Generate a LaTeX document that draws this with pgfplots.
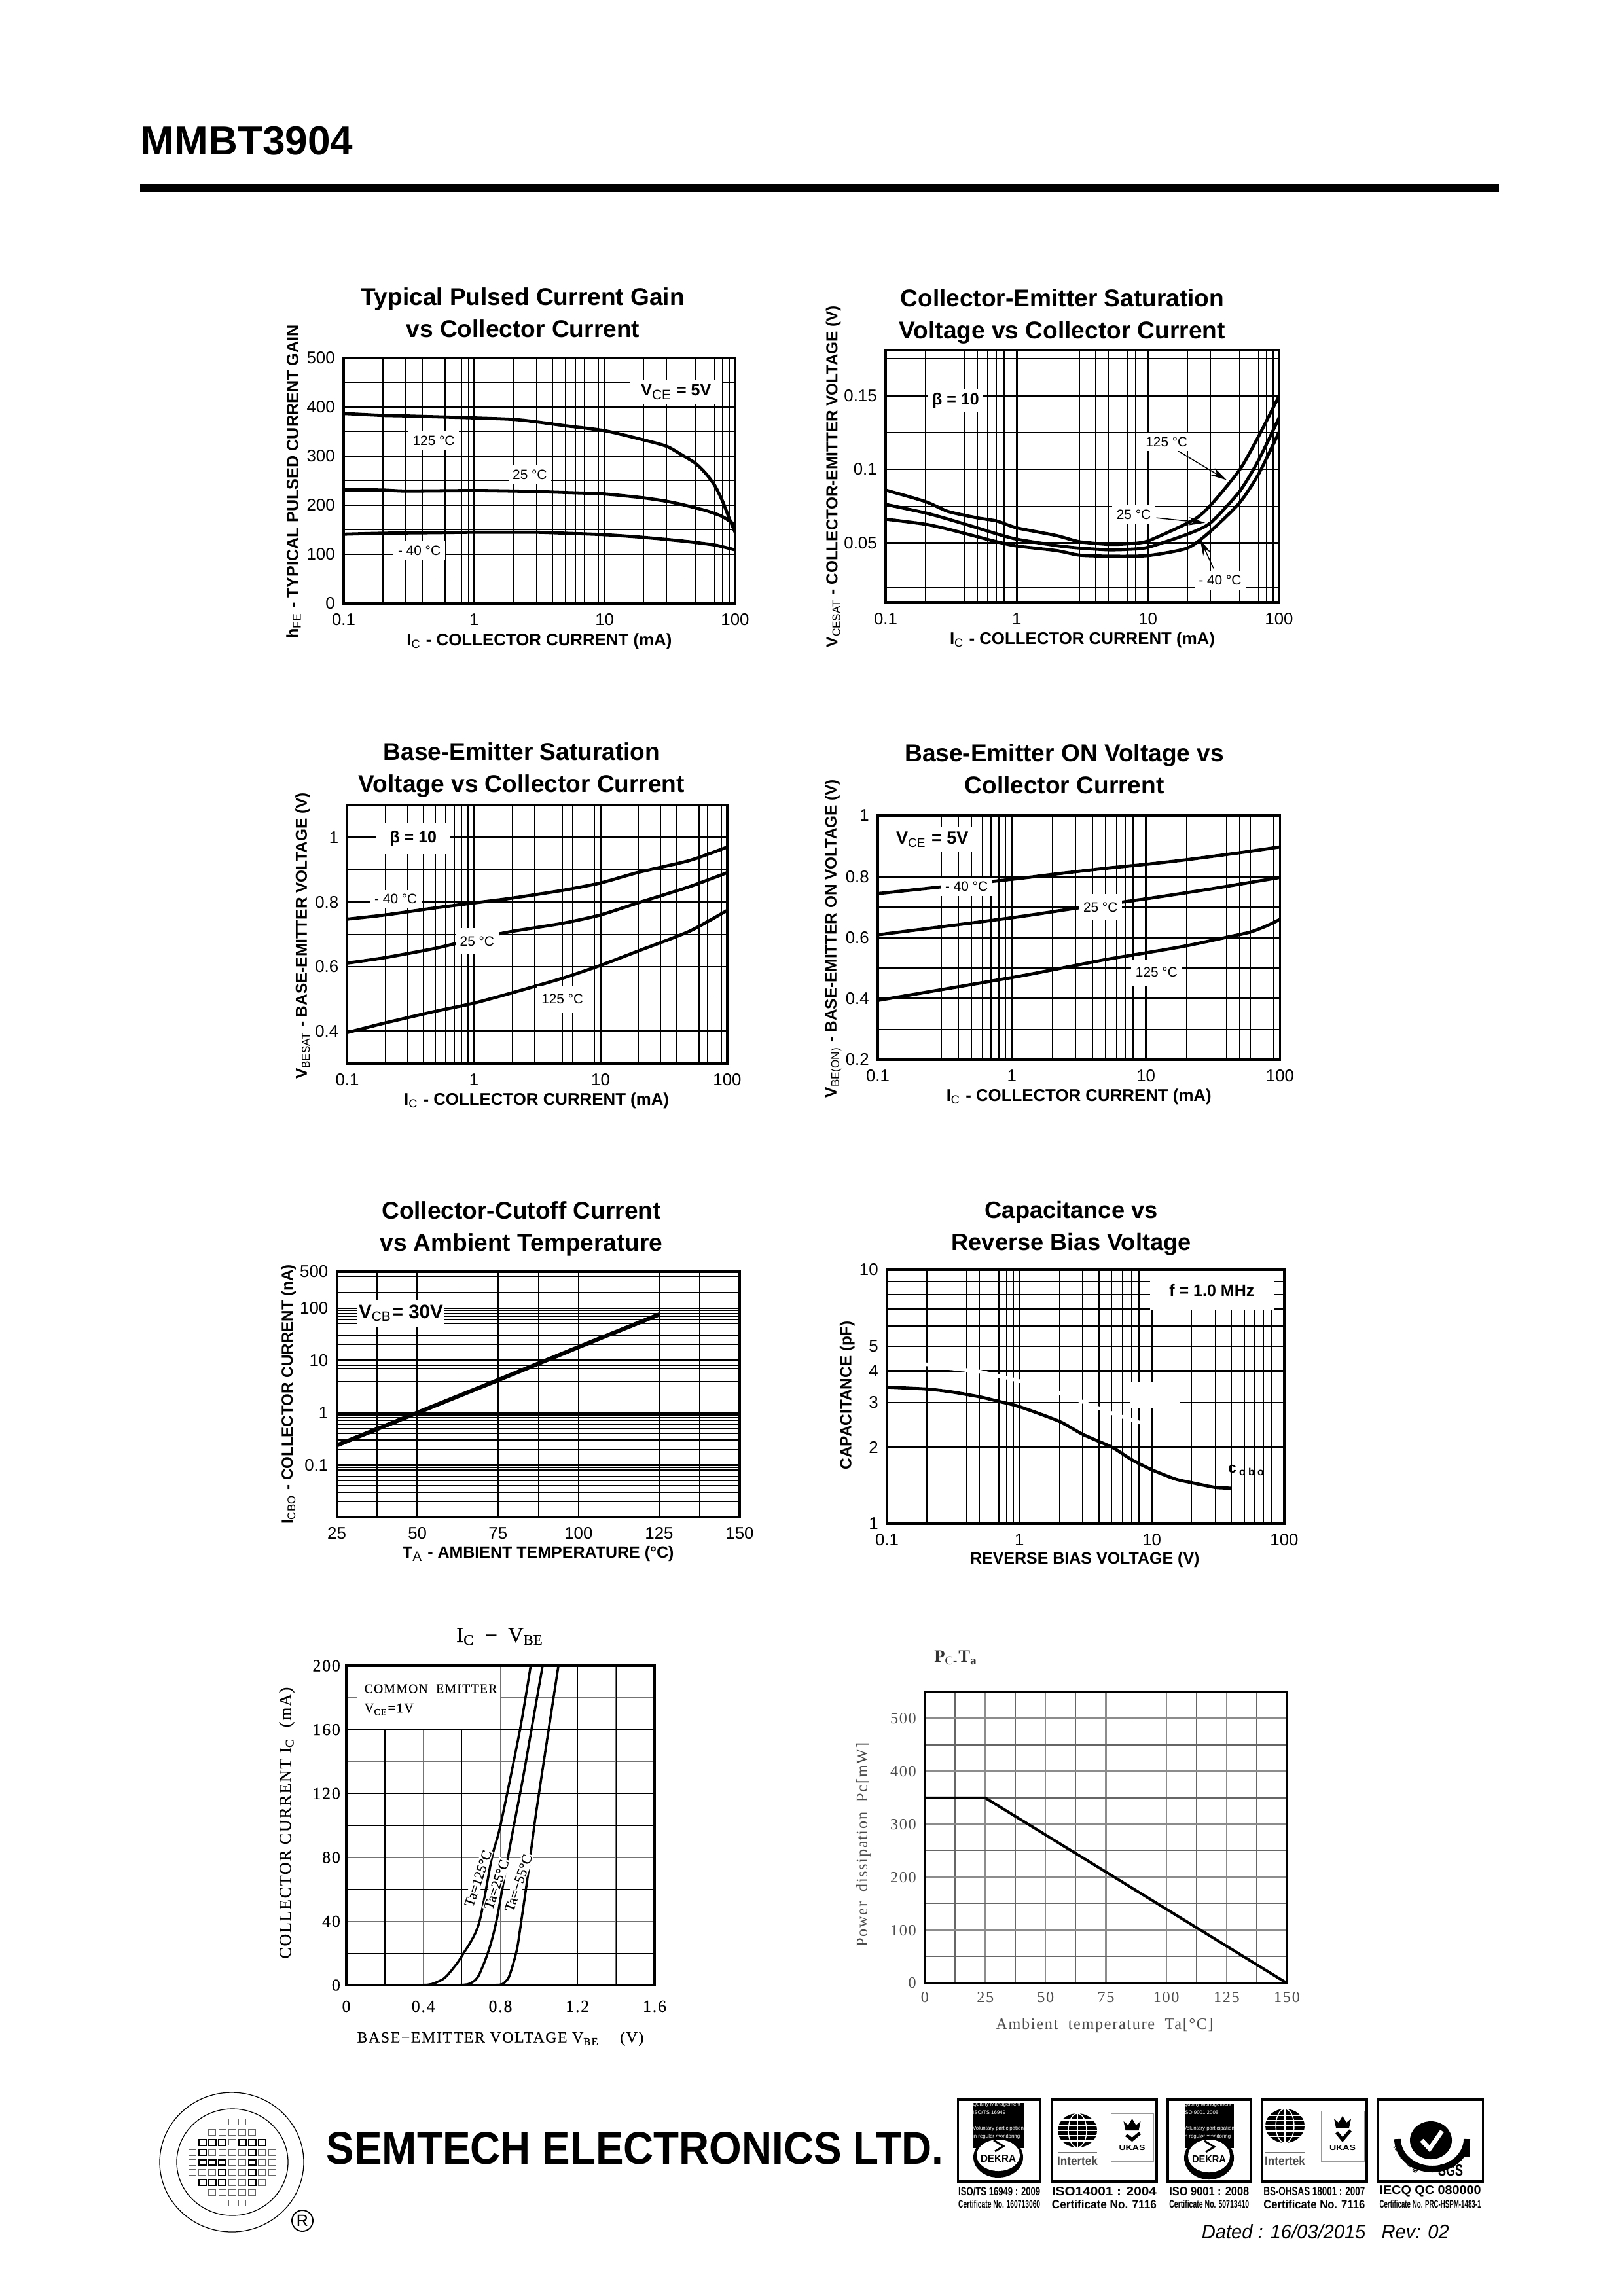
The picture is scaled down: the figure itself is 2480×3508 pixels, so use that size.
\documentclass[border=0pt]{standalone}
\usepackage{fontspec}
\usepackage{graphicx}
\usepackage{pgfplots}
\pgfplotsset{compat=1.18}
\usetikzlibrary{arrows.meta}
\setmainfont{Liberation Sans}
\newfontfamily\srw[LetterSpace=7]{Liberation Serif}
\newfontfamily\srb[LetterSpace=7,FakeBold=0.35]{Liberation Serif}
\newfontfamily\srn{Liberation Serif}
\newfontfamily\srm[FakeBold=0.35]{Liberation Serif}
\newdimen\pxu \pxu=0.24pt
\newcommand\fs[2]{\fontsize{#1}{#2}\selectfont}
\newcommand\sub[1]{\textsubscript{\mdseries #1}}
\newcommand\fit[3]{\resizebox{#1\pxu}{#2\pxu}{#3}}
\pgfplotsset{
 mybox/.style n args={4}{at={({#1*0.24pt},{-#4*0.24pt})},anchor=south west,scale only axis,width={(#3-#1)*0.24pt},height={(#4-#2)*0.24pt},/pgfplots/.cd},
 mypos/.style n args={6}{
  title style={at={(axis description cs:#1,#2)},anchor=center,align=center,yshift=0pt},
  xlabel style={at={(axis description cs:#3,#4)},anchor=center},
  ylabel style={at={(axis description cs:#5,#6)},anchor=center},/pgfplots/.cd},
 mybase/.style={
  axis line style={line width=.8pt,black},
  tick style={draw=none},major tick length=0pt,minor tick length=0pt,
  xmajorgrids,ymajorgrids,xminorgrids,yminorgrids,
  major grid style={black,line width=.62pt},
  minor grid style={black,line width=.32pt},
  tick label style={font=\fs{6.2}{7}},
  xticklabel style={inner sep=0pt},yticklabel style={inner sep=0pt},
  xticklabel shift=3.6pt,yticklabel shift=3pt,
  title style={font=\bfseries\fs{8.9}{11.8}},
  xlabel style={font=\bfseries\fs{6.2}{7}},
  ylabel style={font=\bfseries\fs{5.85}{7}},
  /pgfplots/.cd,
 },
 mylogx/.style={/pgfplots/xmin=.1,/pgfplots/xmax=100,/pgfplots/xtick={.1,1,10,100},/pgfplots/xticklabels={0.1,1,10,100},/pgfplots/minor xtick={.2,.3,.4,.5,.6,.7,.8,.9,2,3,4,5,6,7,8,9,20,30,40,50,60,70,80,90}},
 mycurve/.style={black,line width=1.15pt,no markers,line join=round,smooth,tension=.4},
}
\tikzset{
 mylab/.style={fill=white,inner sep=1.6pt,font=\fs{5}{6}},
 myblab/.style={fill=white,inner sep=1.6pt,font=\bfseries\fs{6}{7}},
}
\begin{document}
\begin{tikzpicture}[x=0.24pt,y=-0.24pt]
\useasboundingbox (0,0) rectangle (2480,3508);
% header
\node[anchor=base west,inner sep=0pt,font=\bfseries\fs{14.9}{16}] at (214,237) {MMBT3904};
\fill[black] (214,281) rectangle (2290,293);

% chart 1
\begin{semilogxaxis}[mybox={525}{547}{1123}{922},mybase,mylogx,mypos={.458}{1.118}{.5}{-.153}{-.128}{.496},
 ymin=0,ymax=500,ytick={0,100,200,300,400,500},yticklabels={0,100,200,300,400,500},
 minor ytick={50,150,250,350,450},
 ylabel style={font=\bfseries\fs{6.05}{7}},
 title={Typical Pulsed Current Gain\\vs Collector Current},
 xlabel={I\sub{C} - COLLECTOR CURRENT (mA)},
 ylabel={h\sub{FE} - TYPICAL PULSED CURRENT GAIN}]
\addplot[mycurve] coordinates {(.1,387)(.2,383)(.3,382)(1,378)(2,375)(3,370)(5,362)(10,352)(20,333)(30,320)(40,301)(50,285)(60,264)(70,240)(80,209)(90,174)(100,145)};
\addplot[mycurve] coordinates {(.1,231.5)(.2,231)(.3,229)(1,230)(2,229)(3,228)(5,226)(10,223)(20,215)(30,208)(40,201)(60,189)(80,177)(100,160)};
\addplot[mycurve] coordinates {(.1,141)(.2,143)(.5,144)(1,145)(2,145)(3,145)(5,143)(10,140)(20,134.5)(40,127)(70,119)(100,109)};
\node[mylab] at (axis cs:.49,332) {125 °C};
\node[mylab] at (axis cs:2.67,262) {25 °C};
\node[mylab] at (axis cs:.38,108) {- 40 °C};
\node[myblab,inner xsep=4pt] at (axis cs:35.3,431) {V\sub{CE} = 5V};
\end{semilogxaxis}

% chart 2
\begin{semilogxaxis}[mybox={1353}{535}{1954}{921},mybase,mylogx,mypos={.449}{1.069}{.5}{-.147}{-.133}{.5},
 scaled y ticks=false,
 ymin=.0095,ymax=.1808,ytick={.05,.1,.15},yticklabels={0.05,0.1,0.15},
 minor ytick={.02,.075,.125,.175},
 title={Collector-Emitter Saturation\\Voltage vs Collector Current},
 xlabel={I\sub{C} - COLLECTOR CURRENT (mA)},
 ylabel={V\sub{CESAT} - COLLECTOR-EMITTER VOLTAGE (V)}]
\addplot[mycurve] coordinates {(.1,.0859)(.2,.0782)(.3,.0714)(.5,.0671)(.7,.065)(1,.0603)(2,.0551)(3,.0509)(5,.0491)(7,.0495)(10,.0514)(22,.0654)(30,.0756)(50,.0996)(70,.1226)(100,.1497)};
\addplot[mycurve] coordinates {(.1,.0762)(.2,.0705)(.3,.0662)(.5,.0603)(.7,.0563)(1,.0526)(2,.0483)(3,.0466)(5,.0454)(7,.0457)(10,.0471)(20,.056)(30,.0637)(50,.085)(70,.1064)(100,.135)};
\addplot[mycurve] coordinates {(.1,.0662)(.2,.0628)(.3,.0594)(.5,.0543)(.7,.0509)(1,.048)(2,.0449)(3,.0418)(5,.0411)(10,.0415)(20,.0466)(30,.058)(50,.0773)(70,.097)(100,.1252)};
\draw[-{Stealth[length=6pt,width=3pt]},line width=.35pt] (axis cs:17,.1124) -- (axis cs:39.9,.0927);
\draw[-{Stealth[length=6pt,width=3pt]},line width=.35pt] (axis cs:11.6,.0671) -- (axis cs:27.3,.0637);
\draw[-{Stealth[length=6pt,width=3pt]},line width=.35pt] (axis cs:31.6,.0329) -- (axis cs:25,.0526);
\node[myblab] at (axis cs:.342,.1466) {β = 10};
\node[mylab] at (axis cs:13.9,.1187) {125 °C};
\node[mylab] at (axis cs:7.8,.0693) {25 °C};
\node[mylab] at (axis cs:35.5,.0247) {- 40 °C};
\end{semilogxaxis}

% chart 3
\begin{semilogxaxis}[mybox={530.5}{1230}{1111}{1625},mybase,mylogx,mypos={.459}{1.072}{.498}{-.144}{-.117}{.494},
 ymin=.3,ymax=1.1,ytick={.4,.6,.8,1},yticklabels={0.4,0.6,0.8,1},
 minor ytick={.5,.7,.9},
 title={Base-Emitter Saturation\\Voltage vs Collector Current},
 xlabel={I\sub{C} - COLLECTOR CURRENT (mA)},
 ylabel={V\sub{BESAT} - BASE-EMITTER VOLTAGE (V)}]
\addplot[mycurve] coordinates {(.1,.747)(.2,.76)(.5,.782)(1,.797)(2,.812)(5,.836)(10,.859)(20,.892)(50,.928)(100,.97)};
\addplot[mycurve] coordinates {(.1,.611)(.2,.628)(.5,.657)(1,.685)(2,.709)(5,.734)(10,.76)(20,.798)(50,.847)(100,.891)};
\addplot[mycurve] coordinates {(.1,.396)(.2,.426)(.5,.462)(1,.487)(2,.519)(5,.564)(10,.604)(20,.649)(50,.709)(100,.774)};
\node[myblab,inner xsep=5pt,inner ysep=3pt] at (axis cs:.332,.997) {β = 10};
\node[mylab] at (axis cs:.242,.809) {- 40 °C};
\node[mylab,inner ysep=3pt] at (axis cs:1.06,.679) {25 °C};
\node[mylab,inner ysep=3pt] at (axis cs:5,.499) {125 °C};
\end{semilogxaxis}

% chart 4
\begin{semilogxaxis}[mybox={1341}{1246}{1955.5}{1619},mybase,mylogx,mypos={.464}{1.125}{.5}{-.151}{-.111}{.496},
 ymin=.2,ymax=1,ytick={.2,.4,.6,.8,1},yticklabels={0.2,0.4,0.6,0.8,1},
 minor ytick={.3,.5,.7,.9},
 title={Base-Emitter ON Voltage vs\\Collector Current},
 xlabel={I\sub{C} - COLLECTOR CURRENT (mA)},
 ylabel={V\sub{BE(ON)} - BASE-EMITTER ON VOLTAGE (V)}]
\addplot[mycurve] coordinates {(.1,.744)(1,.791)(2,.807)(5,.827)(10,.84)(20,.855)(50,.878)(100,.897)};
\addplot[mycurve] coordinates {(.1,.609)(1,.665)(3,.696)(10,.727)(30,.759)(100,.797)};
\addplot[mycurve] coordinates {(.1,.394)(1,.469)(2,.494)(5,.528)(10,.55)(20,.573)(40,.601)(60,.618)(80,.639)(100,.66)};
\node[myblab,font=\bfseries\fs{6.5}{8}] at (axis cs:.255,.921) {V\sub{CE} = 5V};
\node[mylab] at (axis cs:.459,.767) {- 40 °C};
\node[mylab,inner ysep=3pt] at (axis cs:4.58,.70) {25 °C};
\node[mylab,inner ysep=3pt] at (axis cs:12,.486) {125 °C};
\end{semilogxaxis}

% chart 5
\begin{semilogyaxis}[mybox={514.6}{1943}{1130}{2318},mybase,mypos={.458}{1.109}{.5}{-.149}{-.12}{.5},
 xmin=25,xmax=150,xtick={25,50,75,100,125,150},xticklabels={25,50,75,100,125,150},
 minor xtick={37.5,62.5,87.5,112.5,137.5},
 ymin=.01,ymax=500,ytick={.1,1,10,100,500},yticklabels={0.1,1,10,100,500},
 minor ytick={.02,.03,.04,.05,.06,.07,.08,.09,.2,.3,.4,.5,.6,.7,.8,.9,2,3,4,5,6,7,8,9,20,30,40,50,60,70,80,90,200,300,400},
 xlabel style={font=\bfseries\fs{6}{7}},ylabel style={font=\bfseries\fs{5.8}{7}},
 title={Collector-Cutoff Current\\vs Ambient Temperature},
 xlabel={T\sub{A} - AMBIENT TEMPERATURE (°C)},
 ylabel={I\sub{CBO} - COLLECTOR CURRENT (nA)}]
\addplot[black,line width=1.5pt,no markers] coordinates {(25,.237)(50,1)(75,4.2)(100,18)(125,76)};
\node[fill=white,inner sep=0pt,minimum width=32pt,minimum height=10pt,font=\bfseries\fs{7.1}{8}] at (axis cs:44.9,80) {V\sub{CB}= 30V};
\end{semilogyaxis}

% chart 6
\begin{loglogaxis}[mybox={1355}{1940}{1962}{2328},mybase,mylogx,mypos={.464}{1.098}{.498}{-.143}{-.10}{.505},
 ymin=1,ymax=10,ytick={1,2,3,4,5,10},yticklabels={1,2,3,4,5,10},
 minor ytick={6,7,8,9},
 title style={font=\bfseries\fs{8.7}{11.8}},xlabel style={font=\bfseries\fs{6}{7}},
 title={Capacitance vs\\Reverse Bias Voltage},
 xlabel={REVERSE BIAS VOLTAGE (V)},
 ylabel={CAPACITANCE (pF)}]
\addplot[white,line width=1.3pt,no markers] coordinates {(.195,4.25)(.294,4.1)(.496,3.98)(.89,3.71)(2,3.28)(3,3.02)(5.1,2.71)(8.1,2.5)};
\fill[white] (axis cs:6.8,3.6) rectangle (axis cs:16.3,2.84);
\addplot[mycurve] coordinates {(.1,3.45)(.2,3.39)(.3,3.31)(.5,3.16)(.7,3.03)(1,2.89)(2,2.53)(3,2.25)(5,2)(7,1.79)(10,1.63)(15,1.5)(20,1.45)(30,1.39)(40,1.38)};
\addplot[black,line width=.9pt,no markers] coordinates {(.6,4)(100,4)};
\node[myblab,inner xsep=7pt,inner ysep=5pt] at (axis cs:28.4,8.28) {f = 1.0 MHz};
\node[font=\bfseries\fs{5.4}{7},inner sep=0pt] at (axis cs:52,1.62) {c\textsubscript{ o b o}};
\end{loglogaxis}

% chart 7
\begin{axis}[mybox={529}{2545}{1000}{3033},
 axis line style={line width=.9pt,black},
 tick style={draw=none},major tick length=0pt,minor tick length=0pt,
 mypos={.499}{1.04}{.5}{-.168}{-.193}{.508},
 xmin=0,xmax=1.6,ymin=0,ymax=200,
 xtick={0,.4,.8,1.2,1.6},xticklabels={0,0.4,0.8,1.2,1.6},
 ytick={0,40,80,120,160,200},yticklabels={0,40,80,120,160,200},
 minor xtick={.2,.4,.6,.8,1,1.2,1.4},minor ytick={20,40,60,80,100,120,140,160,180},
 xminorgrids,yminorgrids,
 minor grid style={black!55,line width=.34pt},
 extra x ticks={.2,.6,1.2,1.4},extra x tick labels={},
 extra y ticks={20,60,100,120,160},extra y tick labels={},
 extra tick style={grid=major,major grid style={black,line width=.3pt}},
 tick label style={font=\srb\fs{6.2}{7}},
 xticklabel style={inner sep=0pt},yticklabel style={inner sep=0pt},
 xticklabel shift=5.5pt,yticklabel shift=2pt,
 title style={font=\srm\fs{7.8}{9}},
 xlabel style={font=\srb\fs{5.7}{6.5}},
 ylabel style={font=\srb\fs{6.2}{7}},
 title={I\textsubscript{C} \ −\ \ V\textsubscript{BE}},
 xlabel={BASE−EMITTER VOLTAGE V\textsubscript{BE} \quad (V)},
 ylabel={COLLECTOR CURRENT I\textsubscript{C} \ (mA)}]
\fill[white] (axis cs:.056,199) rectangle (axis cs:.799,160.6);
\addplot[black,line width=.85pt,no markers,smooth,tension=.5] coordinates {(0,0)(.35,0)(.4,.1)(.444,.7)(.505,4)(.55,9.8)(.6,18.3)(.687,38)(.756,80)(.8,100)(.9,159)(.957,200)};
\addplot[black,line width=.85pt,no markers,smooth,tension=.5] coordinates {(.5,0)(.61,.2)(.65,1.5)(.687,6)(.74,22)(.779,40)(.824,70)(.862,95)(.916,129)(.961,160)(1.019,200)};
\addplot[black,line width=.85pt,no markers,smooth,tension=.5] coordinates {(.7,0)(.794,.2)(.82,1.5)(.847,6)(.885,22)(.908,40)(.938,65)(.976,100)(1,120)(1.049,159)(1.101,200)};
\addplot[black,line width=.9pt,no markers] coordinates {(0,0)(.45,0)};
\node[anchor=west,inner sep=0pt,font=\srb\fs{4.7}{6}] at (axis cs:.091,185.6) {COMMON\ \ EMITTER};
\node[anchor=west,inner sep=0pt,font=\srb\fs{4.9}{6}] at (axis cs:.091,172.7) {V\textsubscript{CE}=1V};
\node[rotate=71,fill=white,inner sep=.4pt,font=\srn\fs{5.2}{6}] at (axis cs:.684,66.8) {\phantom{Ta=125°C}};
\node[rotate=71,fill=white,inner sep=.4pt,font=\srn\fs{5.2}{6}] at (axis cs:.779,63) {\phantom{Ta=25°C}};
\node[rotate=71,fill=white,inner sep=.4pt,font=\srn\fs{5.2}{6}] at (axis cs:.893,64) {\phantom{Ta=−55°C}};
\node[rotate=71,inner sep=0pt,font=\srm\fs{5.2}{6}] at (axis cs:.684,66.8) {Ta=125°C};
\node[rotate=71,inner sep=0pt,font=\srm\fs{5.2}{6}] at (axis cs:.779,63) {Ta=25°C};
\node[rotate=71,inner sep=0pt,font=\srm\fs{5.2}{6}] at (axis cs:.893,64) {Ta=−55°C};
\end{axis}

% chart 8
\begin{axis}[mybox={1413}{2585}{1966}{3030},
 axis line style={line width=.9pt,black},
 tick style={draw=none},major tick length=0pt,minor tick length=0pt,
 mypos={.086}{1.062}{.4966}{-.146}{-.17}{.475},
 xmin=0,xmax=150,ymin=0,ymax=550,
 xtick={0,25,50,75,100,125,150},xticklabels={0,25,50,75,100,125,150},
 ytick={0,100,200,300,400,500},yticklabels={0,100,200,300,400,500},
 minor xtick={12.5,37.5,62.5,87.5,112.5,137.5},minor ytick={50,150,250,350,450},
 xmajorgrids,ymajorgrids,xminorgrids,yminorgrids,
 major grid style={black!45,line width=.5pt},
 minor grid style={black!60,line width=.34pt},
 tick label style={font=\srw\fs{5.8}{7},text=black!70},
 xticklabel style={inner sep=0pt},yticklabel style={inner sep=0pt},
 xticklabel shift=3pt,yticklabel shift=3pt,
 title style={font=\srn\bfseries\fs{6.4}{8},text=black!80},
 xlabel style={font=\srw\fs{5.8}{6.5},text=black!70},
 ylabel style={font=\srw\fs{5.8}{6.5},text=black!70},
 title={P\sub{C-}T\textsubscript{a}},
 xlabel={Ambient\ \ temperature\ \ Ta[°C]},
 ylabel={Power\ \ dissipation\ \ Pc[mW]}]
\addplot[black,line width=1pt,no markers] coordinates {(0,350)(25,350)(150,0)};
\end{axis}

% logo
\draw[line width=.3pt] (354,3303.5) ellipse [x radius=110,y radius=106.5];
\draw[line width=.3pt] (355,3303.5) ellipse [x radius=85,y radius=81.5];
\foreach \j/\a/\b in {-4/-1/1,-3/-2/2,-2/-3/3,-1/-4/4,0/-4/4,1/-4/4,2/-3/3,3/-2/2,4/-1/1}{
 \foreach \i in {\a,...,\b}{
  \pgfmathsetmacro\xx{354.8+15.2*\i}\pgfmathsetmacro\yy{3304+15.4*\j}
  \draw[black!60,line width=.22pt] ({\xx-5.5},{\yy-4.5}) rectangle ({\xx+5.5},{\yy+4.5});
 }}
\foreach \i/\j in {-3/-2,-2/-2,-1/-2,1/-2,2/-2,3/-2,-3/-1,2/-1,-3/0,-2/0,-1/0,2/0,-1/1,2/1,-3/2,-2/2,-1/2,2/2}{
  \pgfmathsetmacro\xx{354.8+15.2*\i}\pgfmathsetmacro\yy{3304+15.4*\j}
  \draw[black,line width=.5pt] ({\xx-5.5},{\yy-4.5}) rectangle ({\xx+5.5},{\yy+4.5});
 }
\draw[line width=.45pt] (462,3393) circle [radius=16];
\node[font=\fs{6}{7},inner sep=0pt] at (462,3393) {R};
\node[anchor=base west,inner sep=0pt] at (498,3306) {\fit{942}{49}{\bfseries SEMTECH ELECTRONICS LTD.}};

% certificate boxes
\foreach \l/\r in {1463.7/1589.7,1606.8/1767,1784/1910.5,1927.6/2088,2105/2265.5}{
  \draw[black,line width=.75pt] (\l,3208) rectangle (\r,3333);}
% DEKRA 1
\fill[black] (1487,3213) rectangle (1564,3282);
\node[text=white,font=\fs{1.9}{2.9},align=left,inner sep=0pt] at (1525,3240) {Quality Management\\ISO/TS 16949\\ \\Voluntary participation\\in regular monitoring};
\fill[black] (1525,3296) ellipse [x radius=38,y radius=31];
\fill[white] (1525,3293) ellipse [x radius=33,y radius=24];
\node[inner sep=0pt] at (1525,3298) {\fit{54}{11}{\bfseries DEKRA}};
\draw[line width=.7pt] (1518,3270) -- (1533,3279) -- (1520,3287);
% DEKRA 3
\fill[black] (1810,3214) rectangle (1885,3282);
\node[text=white,font=\fs{1.9}{2.9},align=left,inner sep=0pt] at (1847,3240) {Quality Management\\ISO 9001:2008\\ \\Voluntary participation\\in regular monitoring};
\fill[black] (1847,3297) ellipse [x radius=38,y radius=33];
\fill[white] (1847,3294) ellipse [x radius=32,y radius=25];
\node[inner sep=0pt] at (1847,3299) {\fit{52}{11}{\bfseries DEKRA}};
\draw[line width=.7pt] (1840,3271) -- (1855,3280) -- (1842,3288);
% Intertek / UKAS
\foreach \gx/\gy/\ux/\ur/\ut in {1646/3255/1697/1762/3229,1963/3248/2018/2084/3225}{
 \fill[black] (\gx,\gy) ellipse [x radius=30,y radius=26];
 \foreach \dy in {-16,-8,0,8,16}{\draw[white,line width=.35pt] (\gx-30,\gy+\dy) -- (\gx+30,\gy+\dy);}
 \draw[white,line width=.35pt] (\gx,\gy-26) -- (\gx,\gy+26);
 \draw[white,line width=.35pt] (\gx,\gy) ellipse [x radius=14,y radius=26];
 \draw[black!55,line width=.5pt] (\gx-30,3289) -- (\gx+30,3289);
 \node[inner sep=0pt,text=black!70] at (\gx,3302) {\fit{62}{14}{\bfseries Intertek}};
 \draw[black!40,line width=.25pt] (\ux,\ut) rectangle (\ur,3302);
 \pgfmathsetmacro\uc{(\ux+\ur)/2}
 \fill[black] (\uc-10,\ut+26) -- (\uc-13,\ut+12) -- (\uc-6,\ut+18) -- (\uc,\ut+8) -- (\uc+6,\ut+18) -- (\uc+13,\ut+12) -- (\uc+10,\ut+26) -- cycle;
 \draw[black,line width=1.2pt] (\uc-9,\ut+33) -- (\uc,3269) -- (\uc+12,\ut+30);
 \node[inner sep=0pt] at (\uc,3282) {\fit{40}{8}{\bfseries UKAS}};
}
% SGS
\draw[black,line width=2.4pt] (2135,3268) arc [start angle=180,end angle=0,x radius=53,y radius=46];
\draw[black,line width=2.4pt] (2241,3268) -- (2241,3296);
\fill[black] (2186,3270) ellipse [x radius=32,y radius=29];
\draw[white,line width=1.6pt] (2172,3270) -- (2184,3283) -- (2203,3256);
\node[rotate=-50,inner sep=0pt] at (2147,3300) {\fit{52}{7}{\bfseries IECQ HSPM}};
\node[inner sep=0pt] at (2216,3316) {\fit{38}{17}{\bfseries SGS}};
% certificate texts
\node[inner sep=0pt] at (1526.7,3348) {\fit{125}{13}{\bfseries ISO/TS 16949 : 2009}};
\node[inner sep=0pt] at (1526.7,3368) {\fit{125}{12}{\bfseries Certificate No. 160713060}};
\node[inner sep=0pt] at (1686.9,3348) {\fit{160}{13}{\bfseries ISO14001 : 2004}};
\node[inner sep=0pt] at (1686.9,3368) {\fit{160}{13}{\bfseries Certificate No. 7116}};
\node[inner sep=0pt] at (1847.3,3348) {\fit{122}{13}{\bfseries ISO 9001 : 2008}};
\node[inner sep=0pt] at (1847.3,3368) {\fit{122}{12}{\bfseries Certificate No. 50713410}};
\node[inner sep=0pt] at (2007.8,3348) {\fit{155}{13}{\bfseries BS-OHSAS 18001 : 2007}};
\node[inner sep=0pt] at (2007.8,3368) {\fit{155}{13}{\bfseries Certificate No. 7116}};
\node[inner sep=0pt] at (2185,3348) {\fit{155}{13}{\bfseries IECQ QC 080000}};
\node[inner sep=0pt] at (2185,3368) {\fit{155}{12}{\bfseries Certificate No. PRC-HSPM-1483-1}};
\node[anchor=base west,inner sep=0pt] at (1835,3420) {\fit{378}{22}{\itshape Dated : 16/03/2015 \ \ Rev: 02}};
\end{tikzpicture}
\end{document}
